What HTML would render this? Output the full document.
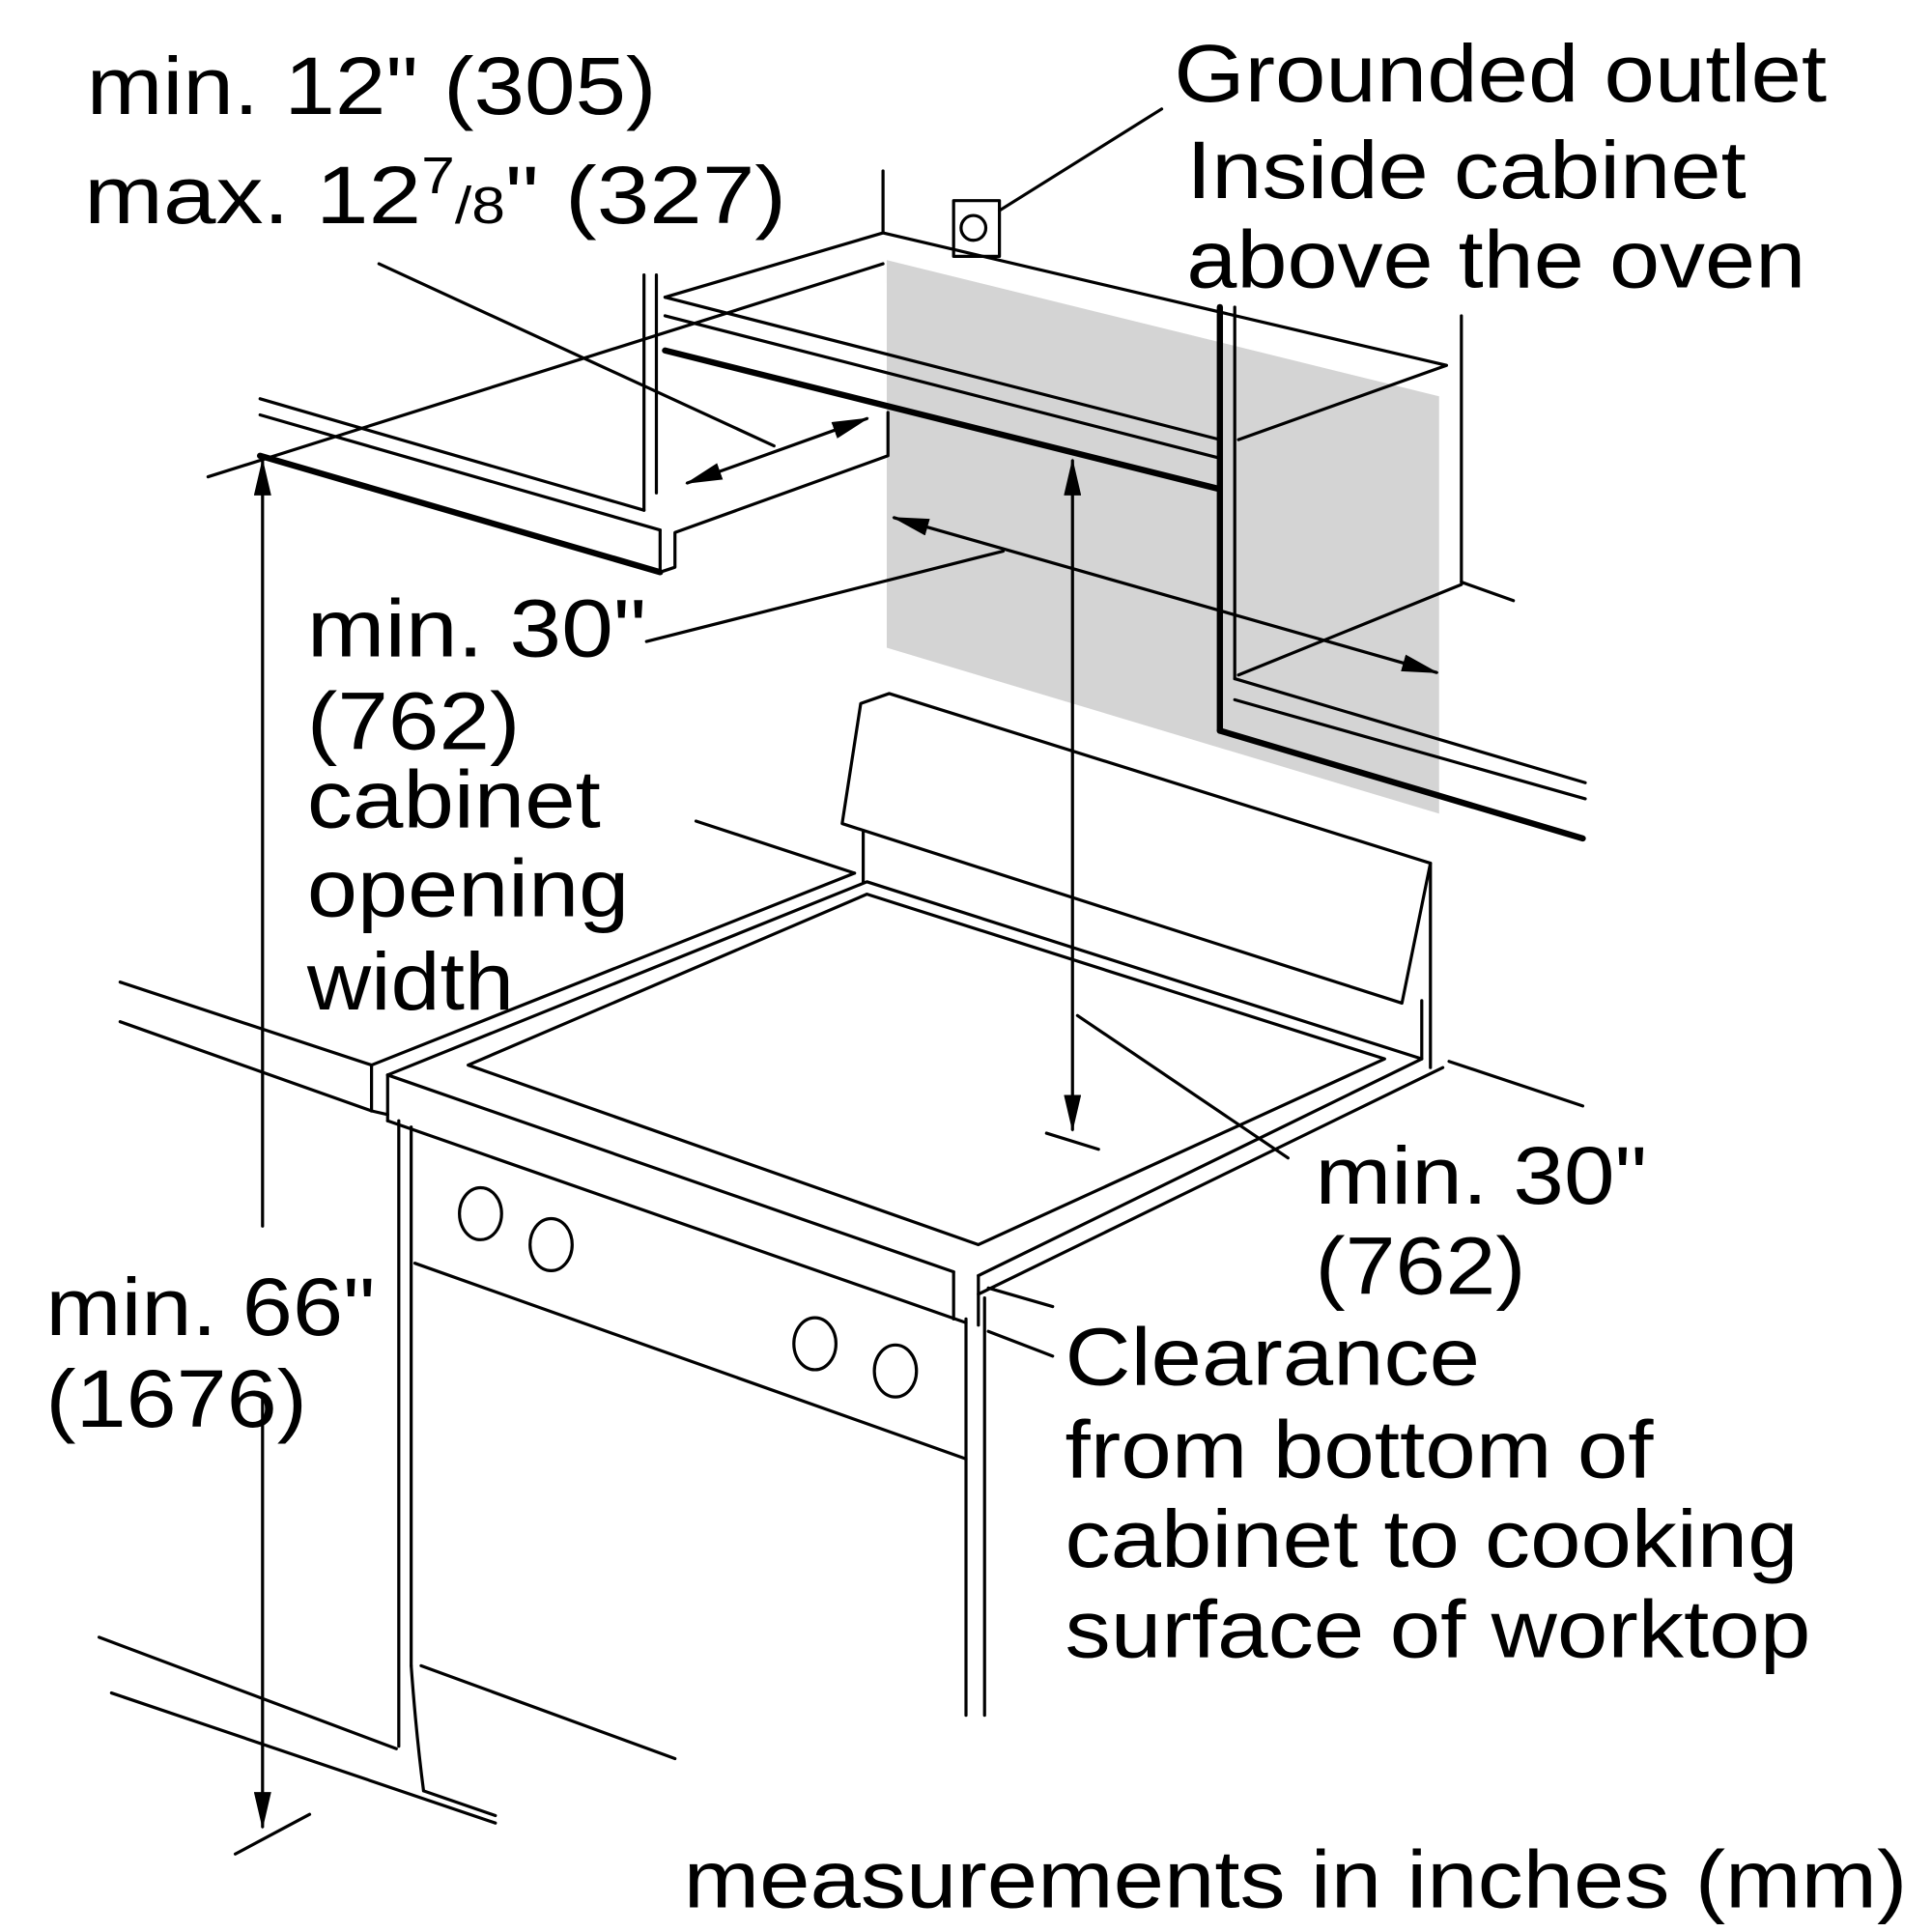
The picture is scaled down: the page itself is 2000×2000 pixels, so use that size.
<!DOCTYPE html>
<html><head><meta charset="utf-8"><style>html,body{margin:0;padding:0;background:#fff}svg{display:block}text{font-family:"Liberation Sans",sans-serif;font-size:66px;fill:#000}</style></head>
<body>
<svg width="2000" height="2000" viewBox="0 0 1560 1560" xmlns="http://www.w3.org/2000/svg">
<defs>
<marker id="b" markerWidth="30" markerHeight="14" refX="28" refY="7" orient="auto-start-reverse" markerUnits="userSpaceOnUse" viewBox="0 0 30 14"><path d="M0,0 L30,7 L0,14 z" fill="#000"/></marker></defs>
<polygon points="716,210 1162,320 1162,657 716,523" fill="#d4d4d4"/>
<g stroke="#000" stroke-width="2.5" fill="none" stroke-linecap="round" stroke-linejoin="round">
<line x1="713" y1="138" x2="713" y2="188"/>
<polyline points="537,240 713,188 1168,295 1000,355"/>
<line x1="537" y1="240" x2="985" y2="355"/>
<line x1="537" y1="255" x2="985" y2="370"/>
<line x1="520" y1="222" x2="520" y2="412"/>
<line x1="530" y1="222" x2="530" y2="398"/>
<line x1="210" y1="322" x2="520" y2="412"/>
<line x1="210" y1="335" x2="533" y2="428"/>
<polyline points="533,428 533,462 545,458 545,430 717,368 717,333"/>
<line x1="168" y1="385" x2="713" y2="213"/>
<line x1="555" y1="390" x2="700" y2="338" marker-start="url(#b)" marker-end="url(#b)"/>
<line x1="306" y1="213" x2="625" y2="360"/>
<line x1="997" y1="248" x2="997" y2="548"/>
<line x1="997" y1="548" x2="1280" y2="632"/>
<line x1="997" y1="565" x2="1280" y2="645"/>
<line x1="1180" y1="255" x2="1180" y2="470"/>
<line x1="1180" y1="470" x2="1222" y2="485"/>
<line x1="1180" y1="472" x2="1000" y2="545"/>
<line x1="722" y1="418" x2="1160" y2="543" marker-start="url(#b)" marker-end="url(#b)"/>
<line x1="522" y1="518" x2="810" y2="445"/>
<line x1="866" y1="372" x2="866" y2="912" marker-start="url(#b)" marker-end="url(#b)"/>
<line x1="845" y1="915" x2="887" y2="928"/>
<line x1="870" y1="820" x2="1040" y2="935"/>
<rect x="770" y="162" width="37" height="45"/>
<circle cx="786" cy="184" r="10"/>
<line x1="807" y1="170" x2="938" y2="88"/>
<polygon points="680,665 695,568 718,560 1155,697 1132,810"/>
<line x1="697" y1="672" x2="697" y2="712"/>
<line x1="1148" y1="808" x2="1148" y2="855"/>
<line x1="1155" y1="697" x2="1155" y2="862"/>
<polyline points="313,868 700,712 1148,855 790,1030"/>
<line x1="300" y1="860" x2="690" y2="705"/>
<polygon points="378,860 700,722 1118,855 790,1005"/>
<line x1="313" y1="868" x2="770" y2="1027"/>
<line x1="313" y1="868" x2="313" y2="905"/>
<line x1="313" y1="905" x2="780" y2="1068"/>
<line x1="770" y1="1027" x2="770" y2="1065"/>
<line x1="790" y1="1030" x2="790" y2="1070"/>
<line x1="790" y1="1045" x2="1165" y2="862"/>
<line x1="322" y1="905" x2="322" y2="1410"/>
<line x1="332" y1="910" x2="332" y2="1345"/>
<line x1="780" y1="1065" x2="780" y2="1385"/>
<line x1="795" y1="1048" x2="795" y2="1385"/>
<line x1="335" y1="1020" x2="780" y2="1178"/>
<ellipse cx="388" cy="980" rx="17" ry="21"/>
<ellipse cx="445" cy="1005" rx="17" ry="21"/>
<ellipse cx="658" cy="1085" rx="17" ry="21"/>
<ellipse cx="723" cy="1107" rx="17" ry="21"/>
<line x1="97" y1="793" x2="300" y2="860"/>
<line x1="97" y1="825" x2="300" y2="897"/>
<line x1="300" y1="860" x2="300" y2="897"/>
<line x1="300" y1="897" x2="313" y2="900"/>
<line x1="1170" y1="857" x2="1278" y2="893"/>
<line x1="798" y1="1040" x2="850" y2="1055"/>
<line x1="798" y1="1075" x2="850" y2="1095"/>
<line x1="562" y1="663" x2="690" y2="705"/>
<line x1="80" y1="1322" x2="320" y2="1412"/>
<line x1="90" y1="1367" x2="400" y2="1472"/>
<line x1="340" y1="1345" x2="545" y2="1420"/>
<line x1="342" y1="1446" x2="400" y2="1466"/>
<path d="M332,1345 Q336,1400 342,1446"/>
<line x1="212" y1="372" x2="212" y2="990" marker-start="url(#b)"/>
<line x1="212" y1="1130" x2="212" y2="1475" marker-end="url(#b)"/>
<line x1="190" y1="1497" x2="250" y2="1465"/>
</g>
<g stroke="#000" stroke-width="5" fill="none" stroke-linecap="round">
<line x1="537" y1="283" x2="985" y2="395"/>
<line x1="210" y1="368" x2="533" y2="462"/>
<line x1="985" y1="248" x2="985" y2="590"/>
<line x1="985" y1="590" x2="1278" y2="677"/>
</g>
<g lengthAdjust="spacingAndGlyphs">
<text x="70" y="92" textLength="460" lengthAdjust="spacingAndGlyphs">min. 12" (305)</text>
<text x="68" y="180" textLength="567" lengthAdjust="spacingAndGlyphs">max. 12<tspan dy="-24" font-size="42">7</tspan><tspan dy="24" font-size="42">/8</tspan>" (327)</text>
<text x="948" y="82" textLength="527" lengthAdjust="spacingAndGlyphs">Grounded outlet</text>
<text x="958" y="160" textLength="452" lengthAdjust="spacingAndGlyphs">Inside cabinet</text>
<text x="958" y="232" textLength="500" lengthAdjust="spacingAndGlyphs">above the oven</text>
<text x="248" y="530" textLength="274" lengthAdjust="spacingAndGlyphs">min. 30"</text>
<text x="248" y="605" textLength="172" lengthAdjust="spacingAndGlyphs">(762)</text>
<text x="248" y="668" textLength="237" lengthAdjust="spacingAndGlyphs">cabinet</text>
<text x="248" y="740" textLength="260" lengthAdjust="spacingAndGlyphs">opening</text>
<text x="248" y="815" textLength="167" lengthAdjust="spacingAndGlyphs">width</text>
<text x="1062" y="972" textLength="268" lengthAdjust="spacingAndGlyphs">min. 30"</text>
<text x="1062" y="1045" textLength="170" lengthAdjust="spacingAndGlyphs">(762)</text>
<text x="860" y="1118" textLength="335" lengthAdjust="spacingAndGlyphs">Clearance</text>
<text x="860" y="1193" textLength="475" lengthAdjust="spacingAndGlyphs">from bottom of</text>
<text x="860" y="1265" textLength="592" lengthAdjust="spacingAndGlyphs">cabinet to cooking</text>
<text x="860" y="1338" textLength="602" lengthAdjust="spacingAndGlyphs">surface of worktop</text>
<text x="37" y="1078" textLength="266" lengthAdjust="spacingAndGlyphs">min. 66"</text>
<text x="37" y="1152" textLength="211" lengthAdjust="spacingAndGlyphs">(1676)</text>
<text x="552" y="1540" textLength="988" lengthAdjust="spacingAndGlyphs">measurements in inches (mm)</text>
</g>
</svg>
</body></html>
